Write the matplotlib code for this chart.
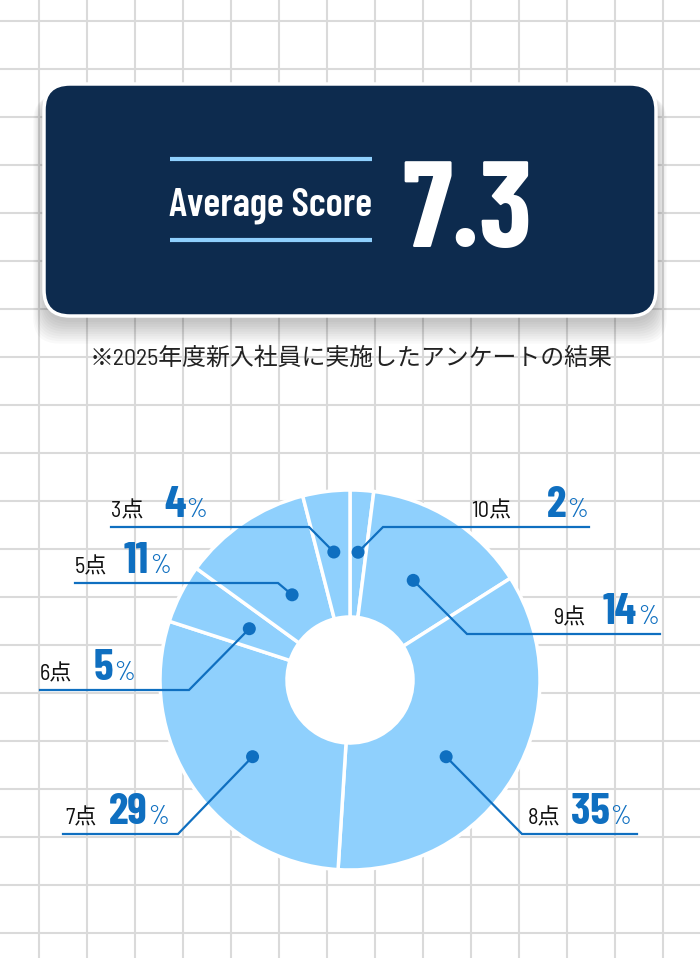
import numpy as np
import matplotlib
matplotlib.use('Agg')
import matplotlib.pyplot as plt
from matplotlib.patches import FancyBboxPatch, Circle

# data
scores = ['10点', '9点', '8点', '7点', '6点', '5点', '3点']
shares = [2, 14, 35, 29, 5, 11, 4]
average_score = 7.3
title_label = 'Average Score'
note = '※2025年度新入社員に実施したアンケートの結果'

# layout (pixels, origin top-left)
W, H = 700, 958
CX, CY, R_OUT, R_IN = 350, 680, 190, 63
NAVY = '#0d2b4e'
SKY = '#8fd0fd'
BLUE = '#0f6fc0'
GRID = '#dadada'

# per label: dot radius, dot angle shift (deg), line y, line x0, line x1, elbow x, label x, number x
label_pos = {
    '10点': (128, 0, 527, 383, 589, 383, 471, 547),
    '9点': (118, 0, 634, 467, 660, 467, 553, 603),
    '8点': (123, 8, 834, 522, 637, 522, 528, 571),
    '7点': (124, -4, 834, 63, 178, 178, 65, 109),
    '6点': (113, 0, 690, 40, 189, 189, 40, 94),
    '5点': (103, 0, 583, 75, 278, 278, 75, 124),
    '3点': (129, 0, 527, 111, 309, 309, 111, 164),
}

COND = ['Barlow Condensed', 'Noto Sans CJK JP', 'DejaVu Sans']
SEMI = ['Barlow Semi Condensed', 'Noto Sans CJK JP', 'DejaVu Sans']

fig = plt.figure(figsize=(W / 100, H / 100), dpi=100)
ax = fig.add_axes([0, 0, 1, 1])
fig.patch.set_facecolor('white')

# background grid
for gx in np.arange(39, W, 48):
    ax.plot([gx, gx], [0, H], color=GRID, lw=1.5, zorder=0, solid_capstyle='butt')
for gy in np.arange(21, H, 48):
    ax.plot([0, W], [gy, gy], color=GRID, lw=1.5, zorder=0, solid_capstyle='butt')

# score box with soft shadow
for i in range(10):
    grow = i * 2.0
    sh = FancyBboxPatch((44 - grow * 0.6, 84 + 6 + grow * 0.3), 612 + grow * 1.2, 232 + grow * 0.9,
                        boxstyle='round,pad=0,rounding_size=26',
                        fc='#000000', ec='none', alpha=0.025, zorder=1)
    ax.add_patch(sh)
box = FancyBboxPatch((44, 84), 612, 232, boxstyle='round,pad=0,rounding_size=26',
                     fc=NAVY, ec='white', lw=2.5, zorder=2)
ax.add_patch(box)
ax.plot([170, 372], [159, 159], color=SKY, lw=3, zorder=3, solid_capstyle='butt')
ax.plot([170, 372], [240, 240], color=SKY, lw=3, zorder=3, solid_capstyle='butt')
ax.text(271, 215, title_label, color='white', fontsize=28.5, fontweight='semibold',
        family=COND, ha='center', va='baseline', zorder=3)
ax.text(402, 247, f'{average_score:.1f}', color='white', fontsize=88, fontweight='bold',
        family=COND, ha='left', va='baseline', zorder=3)

ax.text(351, 359, note, color='#222222', fontsize=17.2, family=SEMI,
        ha='center', va='center', zorder=3)

# donut
wedges, _ = ax.pie(shares, radius=R_OUT, center=(CX, CY), startangle=-90, counterclock=True,
                   colors=[SKY] * len(shares),
                   wedgeprops=dict(width=R_OUT - R_IN, edgecolor='white', linewidth=2.5))
for w in wedges:
    w.set_zorder(2)
ax.add_patch(Circle((CX, CY), R_IN, fc='white', ec='none', zorder=2))
ax.set_xlim(0, W)
ax.set_ylim(H, 0)
ax.set_aspect('equal')
ax.axis('off')

fig.canvas.draw()
renderer = fig.canvas.get_renderer()
inv = ax.transData.inverted()

for w, name, val in zip(wedges, scores, shares):
    r_dot, shift, ly, x0, x1, ex, tx, nx = label_pos[name]
    mid = np.deg2rad((w.theta1 + w.theta2) / 2 + shift)
    dx = CX + r_dot * np.cos(mid)
    dy = CY + r_dot * np.sin(mid)
    if ex == x0:
        xs, ys = [dx, ex, x1], [dy, ly, ly]
    else:
        xs, ys = [dx, ex, x0], [dy, ly, ly]
    ax.plot(xs, ys, color=BLUE, lw=1.6, zorder=4, solid_joinstyle='miter')
    ax.add_patch(Circle((dx, dy), 6.5, fc=BLUE, ec='none', zorder=5))

    base = ly - 10
    ax.text(tx, base, name, color='#111111', fontsize=16, family=SEMI,
            ha='left', va='baseline', zorder=4)
    num = ax.text(nx, base, str(val), color=BLUE, fontsize=32, fontweight='bold',
                  family=COND, ha='left', va='baseline', zorder=4)
    bb = num.get_window_extent(renderer)
    right = inv.transform((bb.x1, bb.y0))[0]
    ax.text(right + 0.5, base, '%', color=BLUE, fontsize=19, family=COND,
            ha='left', va='baseline', zorder=4)

fig.savefig('out.png', dpi=100, facecolor='white')
